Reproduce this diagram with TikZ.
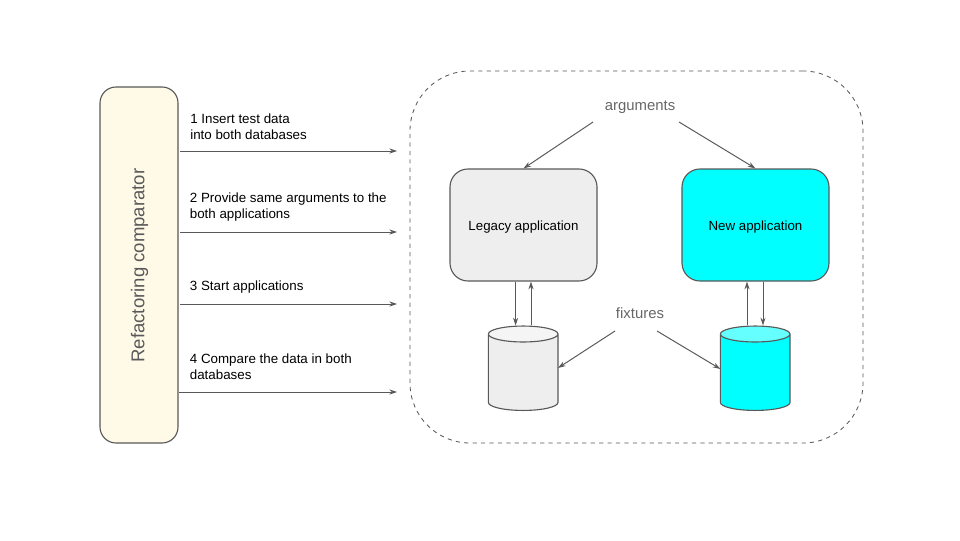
\documentclass[tikz,border=0pt]{standalone}
\usepackage{fontspec}
\setmainfont{Liberation Sans}
\usetikzlibrary{positioning, shapes.geometric, arrows.meta}
\definecolor{linegray}{HTML}{595959}
\definecolor{softgray}{HTML}{666666}
\definecolor{creamfill}{HTML}{FFF9E8}
\definecolor{legacyfill}{HTML}{EEEEEE}
\definecolor{legacytop}{HTML}{F5F5F5}
\definecolor{newfill}{HTML}{00FFFF}
\definecolor{newtop}{HTML}{66FFFF}
\tikzset{
	link/.style={-{Stealth[length=5.5pt, width=3.6pt]}, linegray, line width=.7pt},
	appbox/.style={draw=linegray, line width=.8pt, rounded corners=.45cm, minimum width=3.675cm, minimum height=2.8cm, text height=9.5pt, text depth=2pt, font=\fontsize{9.45pt}{11.4pt}\selectfont},
	dbase/.style={draw=linegray, line width=.8pt, cylinder, shape border rotate=90, shape aspect=1.7, minimum width=1.74cm, minimum height=2.11cm, cylinder uses custom fill},
	steplabel/.style={anchor=west, align=left, inner sep=0pt, font=\fontsize{9.5pt}{11.4pt}\selectfont},
	softlabel/.style={softgray, inner sep=0pt, font=\fontsize{10.6pt}{12pt}\selectfont}
}
\begin{document}
\begin{tikzpicture}
	\useasboundingbox	(0, 0) rectangle (24, 13.5);

	\node	(comparator)	at	(3.475, 6.875)	[draw=linegray, line width=.8pt, fill=creamfill, rounded corners=.4cm, minimum width=1.95cm, minimum height=8.9cm]	{};
	\node	(comparatortext)	at	(3.49, 6.86)	[rotate=90, text=linegray, inner sep=0pt, font=\fontsize{13.2pt}{15pt}\selectfont]	{Refactoring comparator};
	\node	(sandbox)	at	(15.9125, 7.075)	[draw=linegray, line width=.6pt, dashed, rounded corners=1.5cm, minimum width=11.325cm, minimum height=9.3cm]	{};

	\node	(legacy)	at	(13.0875, 7.875)	[appbox, fill=legacyfill]	{Legacy application};
	\node	(new)		at	(18.8875, 7.875)	[appbox, fill=newfill]		{New application};
	\node	(legacydb)	at	(13.08, 4.1375)		[dbase, cylinder body fill=legacyfill, cylinder end fill=legacytop]	{};
	\node	(newdb)		at	(18.88, 4.1375)		[dbase, cylinder body fill=newfill, cylinder end fill=newtop]		{};
	\node	(arguments)	at	(16, 10.83)			[softlabel]	{arguments};
	\node	(fixtures)	at	(16, 5.675)			[softlabel]	{fixtures};

	\node	(step1)	at	(4.75, 10.32)	[steplabel]	{1 Insert test data\\into both databases};
	\node	(step2)	at	(4.74, 8.32)	[steplabel]	{2 Provide same arguments to the\\both applications};
	\node	(step3)	at	(4.74, 6.32)	[steplabel]	{3 Start applications};
	\node	(step4)	at	(4.74, 4.32)	[steplabel]	{4 Compare the data in both\\databases};

	\coordinate	(from1)	at	(4.5, 9.725);
	\coordinate	(to1)	at	(9.93, 9.725);
	\coordinate	(from2)	at	(4.5, 7.7);
	\coordinate	(to2)	at	(9.93, 7.7);
	\coordinate	(from3)	at	(4.5, 5.9);
	\coordinate	(to3)	at	(9.93, 5.9);
	\coordinate	(from4)	at	(4.475, 3.7);
	\coordinate	(to4)	at	(9.93, 3.7);
	\draw	[link]	(from1) -- (to1);
	\draw	[link]	(from2) -- (to2);
	\draw	[link]	(from3) -- (to3);
	\draw	[link]	(from4) -- (to4);

	\coordinate	(argleft)	at	(14.825, 10.45);
	\coordinate	(argright)	at	(16.975, 10.45);
	\coordinate	(fixleft)	at	(15.375, 5.225);
	\coordinate	(fixright)	at	(16.425, 5.225);
	\coordinate	(legacyin)	at	(13.95, 4.3);
	\coordinate	(newin)		at	(18.01, 4.275);
	\draw	[link]	(argleft) -- (legacy.north);
	\draw	[link]	(argright) -- (new.north);
	\draw	[link]	(fixleft) -- (legacyin);
	\draw	[link]	(fixright) -- (newin);

	\draw	[link]	(legacy.south -| 12.89, 0) -- (legacydb.north -| 12.89, 0);
	\draw	[link]	(legacydb.north -| 13.275, 0) -- (legacy.south -| 13.275, 0);
	\draw	[link]	(newdb.north -| 18.675, 0) -- (new.south -| 18.675, 0);
	\draw	[link]	(new.south -| 19.075, 0) -- (newdb.north -| 19.075, 0);
\end{tikzpicture}
\end{document}
